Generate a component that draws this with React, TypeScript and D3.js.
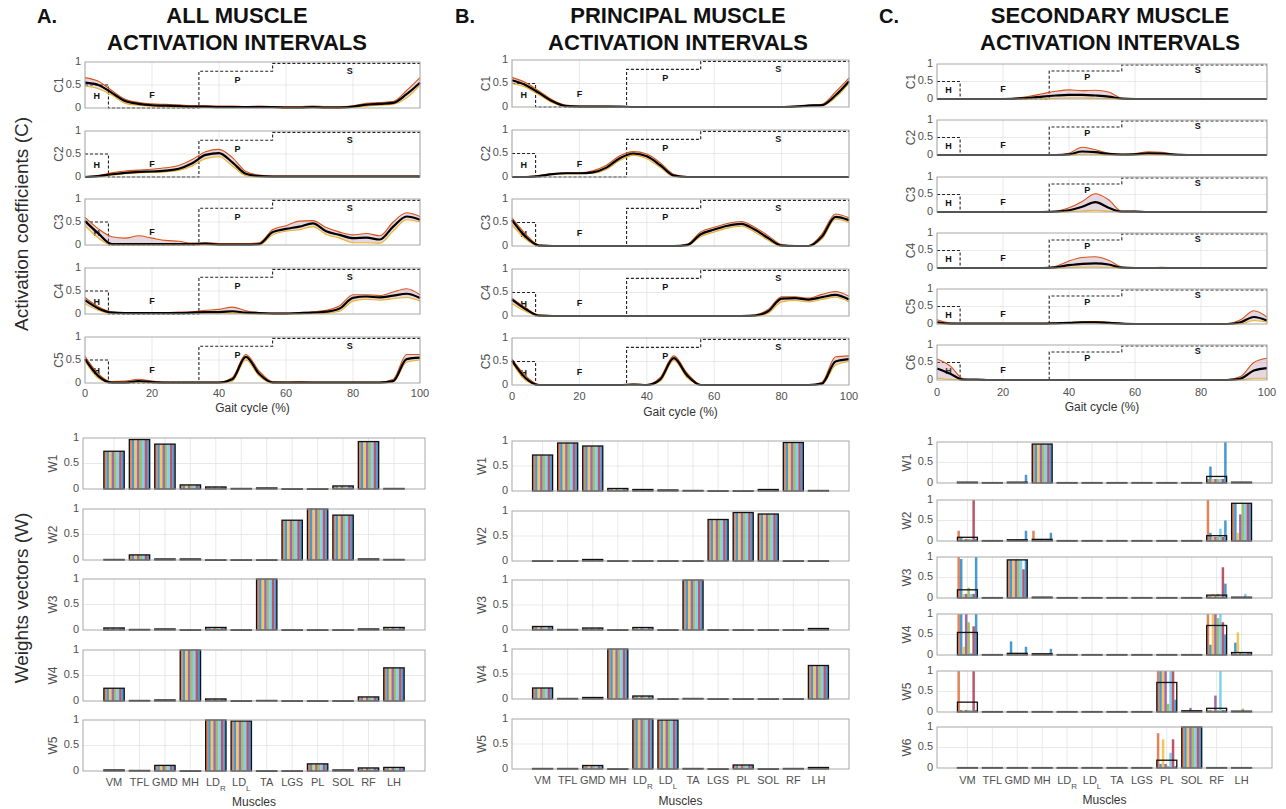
import React from 'react';
import * as d3 from 'd3';

// gait cycle sample points (%)
const gait = [0, 4, 8, 12, 16, 20, 24, 28, 32, 36, 40, 44, 48, 52, 56, 60, 64, 68, 72, 76, 80, 84, 88, 92, 96, 100];
const gaitTicks = [0, 20, 40, 60, 80, 100];
const yTicks = [0, 0.5, 1];
const muscles = ['VM', 'TFL', 'GMD', 'MH', 'LD_R', 'LD_L', 'TA', 'LGS', 'PL', 'SOL', 'RF', 'LH'];

// phase boundaries: heel strike, flat foot, push off, swing
const phasePath: [number, number][] = [[0, 0.5], [7, 0.5], [7, 0], [34, 0], [34, 0.8], [56, 0.8], [56, 0.97], [100, 0.97]];
const phaseLabels = [
  { t: 'H', x: 3.5, y: 0.25 },
  { t: 'F', x: 20, y: 0.27 },
  { t: 'P', x: 45.5, y: 0.6 },
  { t: 'S', x: 79, y: 0.8 },
];

// ---- A: all muscle activation intervals ----
const aC1Mean = [0.55, 0.5, 0.33, 0.15, 0.09, 0.06, 0.05, 0.04, 0.03, 0.03, 0.02, 0.02, 0.02, 0.02, 0.02, 0.01, 0.01, 0.02, 0.01, 0.01, 0.03, 0.07, 0.09, 0.11, 0.3, 0.55];
const aC1Hi = [0.66, 0.58, 0.38, 0.19, 0.12, 0.09, 0.08, 0.07, 0.05, 0.05, 0.04, 0.04, 0.03, 0.04, 0.03, 0.03, 0.03, 0.04, 0.03, 0.03, 0.05, 0.1, 0.12, 0.14, 0.38, 0.66];
const aC1Lo = [0.48, 0.42, 0.28, 0.1, 0.06, 0.04, 0.03, 0.02, 0.01, 0.01, 0.01, 0.01, 0.01, 0.01, 0.01, 0, 0, 0.01, 0, 0, 0.01, 0.04, 0.06, 0.08, 0.22, 0.5];

const aC2Mean = [0, 0.02, 0.06, 0.09, 0.11, 0.12, 0.14, 0.18, 0.3, 0.48, 0.52, 0.32, 0.07, 0.02, 0.01, 0.01, 0.01, 0.01, 0.01, 0.01, 0.01, 0.01, 0.01, 0.01, 0.01, 0.01];
const aC2Hi = [0.01, 0.03, 0.09, 0.13, 0.15, 0.17, 0.2, 0.25, 0.38, 0.55, 0.6, 0.42, 0.12, 0.04, 0.02, 0.02, 0.02, 0.02, 0.02, 0.02, 0.02, 0.02, 0.02, 0.02, 0.02, 0.02];
const aC2Lo = [0, 0.01, 0.04, 0.07, 0.09, 0.1, 0.11, 0.14, 0.24, 0.4, 0.44, 0.24, 0.03, 0, 0, 0, 0, 0, 0, 0, 0, 0, 0, 0, 0, 0];

const aC3Mean = [0.52, 0.25, 0.02, 0.02, 0.02, 0.02, 0.02, 0.02, 0.02, 0.03, 0.01, 0.01, 0.01, 0.02, 0.28, 0.35, 0.4, 0.47, 0.3, 0.22, 0.15, 0.16, 0.12, 0.4, 0.62, 0.55];
const aC3Hi = [0.6, 0.35, 0.18, 0.15, 0.2, 0.15, 0.1, 0.08, 0.04, 0.05, 0.03, 0.03, 0.03, 0.05, 0.33, 0.42, 0.52, 0.53, 0.38, 0.28, 0.22, 0.25, 0.2, 0.5, 0.7, 0.62];
const aC3Lo = [0.42, 0.15, 0, 0, 0, 0, 0, 0, 0, 0, 0, 0, 0, 0, 0.22, 0.3, 0.33, 0.4, 0.23, 0.15, 0.05, 0.05, 0.04, 0.3, 0.55, 0.5];

const aC4Mean = [0.3, 0.12, 0.03, 0.02, 0.02, 0.02, 0.02, 0.02, 0.03, 0.04, 0.04, 0.06, 0.03, 0.02, 0.01, 0.01, 0.02, 0.03, 0.05, 0.12, 0.35, 0.38, 0.36, 0.4, 0.44, 0.35];
const aC4Hi = [0.36, 0.16, 0.05, 0.03, 0.03, 0.03, 0.03, 0.04, 0.05, 0.08, 0.1, 0.15, 0.07, 0.03, 0.02, 0.02, 0.03, 0.05, 0.08, 0.18, 0.42, 0.42, 0.4, 0.48, 0.55, 0.42];
const aC4Lo = [0.22, 0.08, 0.01, 0.01, 0.01, 0.01, 0.01, 0.01, 0.01, 0.02, 0.02, 0.02, 0.01, 0, 0, 0, 0, 0.01, 0.02, 0.06, 0.28, 0.32, 0.3, 0.33, 0.36, 0.28];

const aC5Mean = [0.52, 0.15, 0.01, 0.01, 0.04, 0.02, 0.01, 0.01, 0.01, 0.01, 0.01, 0.08, 0.57, 0.2, 0.01, 0.01, 0.01, 0.01, 0.01, 0.01, 0.01, 0.01, 0.01, 0.04, 0.52, 0.55];
const aC5Hi = [0.58, 0.2, 0.03, 0.04, 0.08, 0.04, 0.02, 0.02, 0.02, 0.02, 0.02, 0.12, 0.62, 0.26, 0.03, 0.02, 0.03, 0.02, 0.02, 0.02, 0.02, 0.02, 0.02, 0.08, 0.62, 0.62];
const aC5Lo = [0.48, 0.1, 0, 0, 0.01, 0, 0, 0, 0, 0, 0, 0.04, 0.5, 0.15, 0, 0, 0, 0, 0, 0, 0, 0, 0, 0.02, 0.45, 0.5];

const aW1 = [0.74, 0.97, 0.88, 0.08, 0.04, 0.01, 0.02, 0.005, 0.005, 0.06, 0.93, 0.01];
const aW2 = [0.01, 0.1, 0.02, 0.02, 0.005, 0.005, 0.005, 0.78, 1.0, 0.88, 0.02, 0.01];
const aW3 = [0.04, 0.01, 0.02, 0.005, 0.05, 0.005, 1.0, 0.005, 0.005, 0.005, 0.02, 0.05];
const aW4 = [0.25, 0.01, 0.02, 1.0, 0.04, 0.005, 0.01, 0.005, 0.005, 0.005, 0.08, 0.65];
const aW5 = [0.02, 0.01, 0.11, 0.005, 1.0, 0.98, 0.005, 0.005, 0.14, 0.02, 0.06, 0.07];

// ---- B: principal muscle activation intervals ----
const bC1Mean = [0.57, 0.47, 0.3, 0.12, 0.02, 0.01, 0.01, 0.01, 0.01, 0, 0, 0, 0, 0, 0, 0, 0, 0, 0, 0, 0, 0.01, 0.03, 0.04, 0.25, 0.55];
const bC1Hi = [0.63, 0.52, 0.34, 0.15, 0.04, 0.02, 0.02, 0.02, 0.01, 0.01, 0.01, 0.01, 0.01, 0.01, 0.01, 0.01, 0.01, 0.01, 0.01, 0.01, 0.01, 0.02, 0.04, 0.06, 0.32, 0.62];
const bC1Lo = [0.5, 0.42, 0.26, 0.09, 0.01, 0, 0, 0, 0, 0, 0, 0, 0, 0, 0, 0, 0, 0, 0, 0, 0, 0, 0.02, 0.03, 0.2, 0.5];

const bC2Mean = [0, 0, 0.02, 0.06, 0.08, 0.08, 0.1, 0.2, 0.4, 0.5, 0.44, 0.25, 0.03, 0, 0, 0, 0, 0, 0, 0, 0, 0, 0, 0, 0, 0];
const bC2Hi = [0, 0.01, 0.03, 0.07, 0.09, 0.09, 0.13, 0.25, 0.45, 0.54, 0.49, 0.3, 0.06, 0.01, 0, 0, 0, 0, 0, 0, 0, 0, 0, 0, 0, 0];
const bC2Lo = [0, 0, 0.01, 0.05, 0.07, 0.07, 0.08, 0.16, 0.35, 0.46, 0.39, 0.2, 0.01, 0, 0, 0, 0, 0, 0, 0, 0, 0, 0, 0, 0, 0];

const bC3Mean = [0.55, 0.2, 0.01, 0, 0, 0, 0, 0, 0, 0, 0, 0, 0, 0.02, 0.25, 0.35, 0.43, 0.47, 0.35, 0.17, 0.01, 0, 0, 0.2, 0.62, 0.55];
const bC3Hi = [0.6, 0.26, 0.02, 0.01, 0.01, 0, 0, 0, 0, 0, 0, 0, 0, 0.04, 0.3, 0.4, 0.48, 0.52, 0.4, 0.22, 0.03, 0, 0.01, 0.26, 0.68, 0.6];
const bC3Lo = [0.45, 0.15, 0, 0, 0, 0, 0, 0, 0, 0, 0, 0, 0, 0.01, 0.2, 0.3, 0.38, 0.42, 0.3, 0.12, 0, 0, 0, 0.15, 0.57, 0.5];

const bC4Mean = [0.35, 0.15, 0.01, 0, 0, 0, 0, 0, 0, 0, 0, 0, 0, 0, 0, 0, 0, 0, 0.01, 0.1, 0.37, 0.38, 0.35, 0.4, 0.45, 0.35];
const bC4Hi = [0.38, 0.18, 0.02, 0.01, 0.01, 0.01, 0, 0, 0, 0, 0, 0, 0, 0, 0, 0, 0, 0, 0.02, 0.14, 0.41, 0.41, 0.38, 0.46, 0.52, 0.42];
const bC4Lo = [0.26, 0.1, 0, 0, 0, 0, 0, 0, 0, 0, 0, 0, 0, 0, 0, 0, 0, 0, 0, 0.06, 0.3, 0.33, 0.3, 0.35, 0.4, 0.3];

const bC5Mean = [0.52, 0.15, 0, 0, 0, 0, 0, 0, 0, 0.01, 0, 0.12, 0.57, 0.2, 0, 0, 0, 0, 0, 0, 0, 0, 0, 0.03, 0.5, 0.55];
const bC5Hi = [0.55, 0.2, 0.01, 0, 0, 0, 0, 0, 0, 0.02, 0.01, 0.16, 0.62, 0.25, 0.01, 0, 0, 0, 0, 0, 0, 0, 0, 0.06, 0.6, 0.62];
const bC5Lo = [0.48, 0.1, 0, 0, 0, 0, 0, 0, 0, 0, 0, 0.08, 0.52, 0.15, 0, 0, 0, 0, 0, 0, 0, 0, 0, 0.01, 0.42, 0.5];

const bW1 = [0.72, 0.96, 0.9, 0.05, 0.03, 0.02, 0.01, 0.005, 0.005, 0.03, 0.97, 0.01];
const bW2 = [0.005, 0.005, 0.03, 0.005, 0.005, 0.005, 0.005, 0.83, 0.97, 0.94, 0.005, 0.005];
const bW3 = [0.07, 0.01, 0.04, 0.005, 0.05, 0.005, 1.0, 0.005, 0.005, 0.005, 0.005, 0.03];
const bW4 = [0.22, 0.01, 0.03, 1.0, 0.06, 0.005, 0.01, 0.005, 0.005, 0.005, 0.005, 0.67];
const bW5 = [0.01, 0.01, 0.07, 0.005, 1.0, 0.98, 0.01, 0.005, 0.08, 0.005, 0.01, 0.03];

// ---- C: secondary muscle activation intervals ----
const cC1Mean = [0, 0, 0, 0, 0, 0, 0.01, 0.03, 0.07, 0.1, 0.12, 0.12, 0.1, 0.07, 0.01, 0, 0, 0, 0, 0, 0, 0, 0, 0, 0, 0];
const cC1Hi = [0, 0, 0, 0, 0, 0, 0.03, 0.08, 0.15, 0.22, 0.26, 0.24, 0.25, 0.2, 0.02, 0, 0, 0, 0, 0, 0, 0, 0, 0, 0, 0];
const cC1Lo = [0, 0, 0, 0, 0, 0, 0, 0, 0, 0.02, 0.03, 0.03, 0.02, 0.01, 0, 0, 0, 0, 0, 0, 0, 0, 0, 0, 0, 0];

const cC2Mean = [0, 0, 0, 0, 0, 0, 0, 0, 0, 0, 0.02, 0.1, 0.08, 0.03, 0.01, 0.02, 0.05, 0.04, 0.01, 0, 0, 0, 0, 0, 0, 0];
const cC2Hi = [0, 0, 0, 0, 0, 0, 0, 0, 0, 0, 0.05, 0.22, 0.15, 0.05, 0.02, 0.04, 0.09, 0.08, 0.02, 0, 0, 0, 0, 0, 0, 0];
const cC2Lo = [0, 0, 0, 0, 0, 0, 0, 0, 0, 0, 0, 0.02, 0.02, 0, 0, 0, 0.01, 0.01, 0, 0, 0, 0, 0, 0, 0, 0];

const cC3Mean = [0, 0, 0, 0, 0, 0, 0, 0, 0, 0.01, 0.05, 0.15, 0.28, 0.12, 0.01, 0.01, 0, 0, 0, 0, 0, 0, 0, 0, 0, 0];
const cC3Hi = [0, 0, 0, 0, 0, 0, 0, 0, 0, 0.02, 0.12, 0.3, 0.52, 0.35, 0.02, 0.02, 0, 0, 0, 0, 0, 0, 0, 0, 0, 0];
const cC3Lo = [0, 0, 0, 0, 0, 0, 0, 0, 0, 0, 0.01, 0.03, 0.05, 0.02, 0, 0, 0, 0, 0, 0, 0, 0, 0, 0, 0, 0];

const cC4Mean = [0, 0, 0, 0, 0, 0, 0, 0, 0, 0.02, 0.08, 0.12, 0.13, 0.1, 0.01, 0, 0, 0, 0, 0, 0, 0, 0, 0, 0, 0];
const cC4Hi = [0, 0, 0, 0, 0, 0, 0, 0, 0, 0.05, 0.2, 0.3, 0.32, 0.22, 0.03, 0, 0, 0.02, 0, 0, 0, 0, 0, 0, 0, 0];
const cC4Lo = [0, 0, 0, 0, 0, 0, 0, 0, 0, 0, 0.01, 0.03, 0.03, 0.02, 0, 0, 0, 0, 0, 0, 0, 0, 0, 0, 0, 0];

const cC5Mean = [0.05, 0.01, 0.01, 0.01, 0.01, 0.01, 0.01, 0.01, 0.01, 0.02, 0.03, 0.05, 0.05, 0.03, 0.01, 0, 0, 0, 0, 0, 0, 0, 0, 0.05, 0.2, 0.1];
const cC5Hi = [0.12, 0.03, 0.02, 0.02, 0.02, 0.02, 0.02, 0.02, 0.02, 0.03, 0.04, 0.06, 0.07, 0.05, 0.02, 0.01, 0, 0, 0, 0, 0, 0, 0.01, 0.12, 0.38, 0.2];
const cC5Lo = [0, 0, 0, 0, 0, 0, 0, 0, 0, 0.01, 0.02, 0.03, 0.03, 0.02, 0, 0, 0, 0, 0, 0, 0, 0, 0, 0, 0.1, 0.05];

const cC6Mean = [0.33, 0.18, 0.01, 0.01, 0, 0, 0, 0, 0, 0, 0, 0, 0, 0, 0, 0, 0, 0, 0, 0, 0, 0, 0, 0.04, 0.27, 0.34];
const cC6Hi = [0.6, 0.4, 0.03, 0.01, 0.01, 0, 0, 0, 0, 0, 0, 0, 0, 0, 0, 0, 0, 0, 0, 0, 0, 0, 0.01, 0.1, 0.5, 0.62];
const cC6Lo = [0.05, 0.02, 0, 0, 0, 0, 0, 0, 0, 0, 0, 0, 0, 0, 0, 0, 0, 0, 0, 0, 0, 0, 0, 0, 0.05, 0.05];

const cW1 = [0.02, 0.01, 0.02, 0.95, 0.01, 0.01, 0.01, 0.01, 0.01, 0.01, 0.16, 0.02];
const cW2 = [0.09, 0.01, 0.03, 0.04, 0.01, 0.01, 0.01, 0.01, 0.01, 0.01, 0.13, 0.92];
const cW3 = [0.2, 0.01, 0.93, 0.02, 0.01, 0.01, 0.01, 0.01, 0.01, 0.01, 0.07, 0.02];
const cW4 = [0.55, 0.01, 0.04, 0.03, 0.01, 0.01, 0.01, 0.01, 0.01, 0.01, 0.72, 0.06];
const cW5 = [0.24, 0.01, 0.01, 0.01, 0.01, 0.01, 0.01, 0.01, 0.72, 0.03, 0.09, 0.02];
const cW6 = [0.01, 0.01, 0.01, 0.01, 0.01, 0.01, 0.01, 0.01, 0.19, 1.0, 0.01, 0.01];

// single-subject weights where they differ from the mean: [muscle index, subject 1..8]
const cW1Subj = [[2, 0.02, 0.02, 0.02, 0.02, 0.02, 0.02, 0.02, 0.2], [3, 0.95, 0.95, 0.95, 0.95, 0.95, 0.95, 0.95, 0.95], [10, 0.1, 0.4, 0.1, 0.1, 0.1, 0.1, 0.1, 1.0]];
const cW2Subj = [[0, 0.25, 0.1, 0.05, 0.05, 0.05, 0.05, 1.0, 0.05], [2, 0.02, 0.02, 0.02, 0.02, 0.02, 0.02, 0.02, 0.25], [3, 0.25, 0.03, 0.03, 0.03, 0.03, 0.03, 0.03, 0.2], [10, 1.0, 0.2, 0.1, 0.1, 0.1, 0.3, 0.1, 0.5], [11, 0.92, 0.92, 0.2, 0.65, 0.92, 0.92, 0.92, 0.92]];
const cW3Subj = [[0, 1.0, 0.95, 0.1, 0.1, 0.25, 0.1, 0.1, 1.0], [2, 0.93, 0.93, 0.93, 0.93, 0.93, 0.93, 0.7, 0.93], [10, 0.05, 0.05, 0.1, 0.05, 0.1, 0.05, 0.75, 0.35], [11, 0.01, 0.01, 0.01, 0.01, 0.01, 0.1, 0.01, 0.01]];
const cW4Subj = [[0, 1.0, 1.0, 0.2, 1.0, 0.8, 0.05, 0.7, 1.0], [2, 0.02, 0.33, 0.02, 0.02, 0.02, 0.02, 0.02, 0.2], [3, 0.02, 0.02, 0.02, 0.02, 0.02, 0.02, 0.02, 0.15], [10, 1.0, 0.25, 1.0, 1.0, 0.9, 1.0, 0.8, 0.5], [11, 0.05, 0.3, 0.55, 0.05, 0.05, 0.05, 0.05, 0.05]];
const cW5Subj = [[0, 1.0, 0.05, 0.05, 0.05, 0.05, 0.05, 1.0, 0.05], [8, 1.0, 1.0, 1.0, 1.0, 0.2, 1.0, 1.0, 0.3], [9, 0.02, 0.02, 0.02, 0.1, 0.02, 0.02, 0.02, 0.02], [10, 0.05, 0.05, 0.05, 0.4, 0.05, 1.0, 0.05, 0.05], [11, 0.01, 0.01, 0.01, 0.01, 0.08, 0.01, 0.01, 0.01]];
const cW6Subj = [[8, 0.85, 0.1, 0.7, 0.1, 0.05, 0.37, 0.7, 0.05], [9, 1, 1, 1, 1, 1, 1, 1, 1]];

const subjColors = ['#D95319', '#0072BD', '#EDB120', '#7E2F8E', '#77AC30', '#4DBEEE', '#A2142F', '#0072BD'];

const FONT = '"Liberation Sans", Arial, Helvetica, sans-serif';
const GRID = '#e3e3e3';
const AXIS = '#a8a8a8';
const TICK = '#505050';

type CurveProps = { x0: number; x1: number; top: number; h: number; label: string; mean: number[]; hi: number[]; lo: number[]; axisY?: number; titleY?: number };

function CurvePanel({ x0, x1, top, h, label, mean, hi, lo, axisY, titleY }: CurveProps) {
  const x = d3.scaleLinear([0, 100], [x0, x1]);
  const y = d3.scaleLinear([0, 1], [top + h, top]);
  const line = d3.line<number>().x((_, i) => x(gait[i])).y(d => y(d)).curve(d3.curveMonotoneX);
  const band = d3.area<number>().x((_, i) => x(gait[i])).y0((_, i) => y(lo[i])).y1(d => y(d)).curve(d3.curveMonotoneX);
  const phase = d3.line<[number, number]>().x(d => x(d[0])).y(d => y(d[1]));
  return (
    <g>
      {gaitTicks.map(t => <line key={'gx' + t} x1={x(t)} x2={x(t)} y1={top} y2={top + h} stroke={GRID} strokeWidth={0.8} />)}
      <line x1={x0} x2={x1} y1={y(0.5)} y2={y(0.5)} stroke={GRID} strokeWidth={0.8} />
      <path d={phase(phasePath) || ''} fill="none" stroke="#222" strokeWidth={1.1} strokeDasharray="3,2" />
      {phaseLabels.map(p => (
        <text key={p.t} x={x(p.x)} y={y(p.y)} fontSize={9} fontWeight="bold" textAnchor="middle" dominantBaseline="middle" fontFamily={FONT} fill="#111">{p.t}</text>
      ))}
      <path d={band(hi) || ''} fill="#b07a9a" fillOpacity={0.3} stroke="none" />
      <path d={line(hi) || ''} fill="none" stroke="#D95319" strokeWidth={1.1} />
      <path d={line(lo) || ''} fill="none" stroke="#EDB120" strokeWidth={1.1} />
      <path d={line(mean) || ''} fill="none" stroke="#000" strokeWidth={2.2} />
      <rect x={x0} y={top} width={x1 - x0} height={h} fill="none" stroke={AXIS} strokeWidth={1} />
      {yTicks.map(t => (
        <text key={'yt' + t} x={x0 - 4} y={y(t)} fontSize={11} textAnchor="end" dominantBaseline="middle" fontFamily={FONT} fill={TICK}>{t}</text>
      ))}
      <text transform={`translate(${x0 - 25},${top + h / 2}) rotate(-90)`} fontSize={12} textAnchor="middle" dominantBaseline="middle" fontFamily={FONT} fill={TICK}>{label}</text>
      {axisY !== undefined && gaitTicks.map(t => (
        <text key={'xt' + t} x={x(t)} y={axisY} fontSize={11} textAnchor="middle" fontFamily={FONT} fill={TICK}>{t}</text>
      ))}
      {titleY !== undefined && (
        <text x={(x0 + x1) / 2} y={titleY} fontSize={12} textAnchor="middle" fontFamily={FONT} fill="#333">Gait cycle (%)</text>
      )}
    </g>
  );
}

type BarProps = { x0: number; x1: number; top: number; h: number; label: string; mean: number[]; subj?: number[][]; axisY?: number; titleY?: number };

function BarPanel({ x0, x1, top, h, label, mean, subj, axisY, titleY }: BarProps) {
  const x = d3.scaleLinear([1 - 1.22, 12 + 1.22], [x0, x1]);
  const y = d3.scaleLinear([0, 1], [top + h, top]);
  const bw = x(1.8) - x(1);
  const n = subjColors.length;
  const sw = bw / n;
  const subjOf = (i: number) => {
    const row = subj?.find(r => r[0] === i);
    return row ? row.slice(1) : subjColors.map(() => mean[i]);
  };
  return (
    <g>
      {muscles.map((_, i) => <line key={'gx' + i} x1={x(i + 1)} x2={x(i + 1)} y1={top} y2={top + h} stroke={GRID} strokeWidth={0.8} />)}
      <line x1={x0} x2={x1} y1={y(0.5)} y2={y(0.5)} stroke={GRID} strokeWidth={0.8} />
      {mean.map((m, i) => {
        const left = x(i + 1) - bw / 2;
        return (
          <g key={'b' + i}>
            {subjOf(i).map((v, k) => (
              <rect key={k} x={left + k * sw} y={y(v)} width={sw} height={y(0) - y(v)} fill={subjColors[k]} fillOpacity={0.72} />
            ))}
            <rect x={left} y={y(m)} width={bw} height={Math.max(y(0) - y(m), 0.6)} fill="none" stroke="#111" strokeWidth={1.3} />
          </g>
        );
      })}
      <rect x={x0} y={top} width={x1 - x0} height={h} fill="none" stroke={AXIS} strokeWidth={1} />
      {yTicks.map(t => (
        <text key={'yt' + t} x={x0 - 4} y={y(t)} fontSize={11} textAnchor="end" dominantBaseline="middle" fontFamily={FONT} fill={TICK}>{t}</text>
      ))}
      <text transform={`translate(${x0 - 29},${top + h / 2}) rotate(-90)`} fontSize={12} textAnchor="middle" dominantBaseline="middle" fontFamily={FONT} fill={TICK}>{label}</text>
      {axisY !== undefined && muscles.map((m, i) => {
        const [base, sub] = m.split('_');
        return (
          <text key={'xt' + i} x={x(i + 1)} y={axisY} fontSize={11} textAnchor="middle" fontFamily={FONT} fill={TICK}>
            {base}{sub && <tspan fontSize={8} dy={5}>{sub}</tspan>}
          </text>
        );
      })}
      {titleY !== undefined && (
        <text x={(x0 + x1) / 2} y={titleY} fontSize={12} textAnchor="middle" fontFamily={FONT} fill="#333">Muscles</text>
      )}
    </g>
  );
}

const columns = [
  {
    letter: 'A.', letterX: 37, title: ['ALL MUSCLE', 'ACTIVATION INTERVALS'], titleX: 237,
    cx0: 85, cx1: 420, cTops: [62, 131, 199, 268, 337], cH: 46, cAxisY: 397, cTitleY: 412,
    curves: [[aC1Mean, aC1Hi, aC1Lo], [aC2Mean, aC2Hi, aC2Lo], [aC3Mean, aC3Hi, aC3Lo], [aC4Mean, aC4Hi, aC4Lo], [aC5Mean, aC5Hi, aC5Lo]],
    wx0: 83, wx1: 425, wTops: [438, 509, 579, 650, 720], wH: 51, wAxisY: 786, wTitleY: 806,
    weights: [aW1, aW2, aW3, aW4, aW5], subj: [] as number[][][],
  },
  {
    letter: 'B.', letterX: 455, title: ['PRINCIPAL MUSCLE', 'ACTIVATION INTERVALS'], titleX: 678,
    cx0: 512, cx1: 849, cTops: [60, 130, 199, 269, 338], cH: 47, cAxisY: 400, cTitleY: 416,
    curves: [[bC1Mean, bC1Hi, bC1Lo], [bC2Mean, bC2Hi, bC2Lo], [bC3Mean, bC3Hi, bC3Lo], [bC4Mean, bC4Hi, bC4Lo], [bC5Mean, bC5Hi, bC5Lo]],
    wx0: 512, wx1: 849, wTops: [441, 511, 580, 649, 719], wH: 50, wAxisY: 784, wTitleY: 805,
    weights: [bW1, bW2, bW3, bW4, bW5], subj: [] as number[][][],
  },
  {
    letter: 'C.', letterX: 879, title: ['SECONDARY MUSCLE', 'ACTIVATION INTERVALS'], titleX: 1110,
    cx0: 937, cx1: 1267, cTops: [64, 120, 177, 233, 289, 345], cH: 35, cAxisY: 396, cTitleY: 411,
    curves: [[cC1Mean, cC1Hi, cC1Lo], [cC2Mean, cC2Hi, cC2Lo], [cC3Mean, cC3Hi, cC3Lo], [cC4Mean, cC4Hi, cC4Lo], [cC5Mean, cC5Hi, cC5Lo], [cC6Mean, cC6Hi, cC6Lo]],
    wx0: 937, wx1: 1272, wTops: [442, 500, 557, 614, 671, 727], wH: 41, wAxisY: 784, wTitleY: 804,
    weights: [cW1, cW2, cW3, cW4, cW5, cW6], subj: [cW1Subj, cW2Subj, cW3Subj, cW4Subj, cW5Subj, cW6Subj],
  },
];

export default function App() {
  return (
    <div style={{ position: 'absolute', left: 0, top: 0, background: '#fff' }}>
      <svg width={1286} height={809} viewBox="0 0 1286 809" style={{ display: 'block' }}>
        <rect width={1286} height={809} fill="#fff" />
        <text transform="translate(28,224) rotate(-90)" fontSize={19} textAnchor="middle" fontFamily={FONT} fill="#2a2a2a">Activation coefficients (C)</text>
        <text transform="translate(28,598) rotate(-90)" fontSize={19} textAnchor="middle" fontFamily={FONT} fill="#2a2a2a">Weights vectors (W)</text>
        {columns.map(col => {
          const nc = col.curves.length;
          const nw = col.weights.length;
          return (
            <g key={col.letter}>
              <text x={col.letterX} y={23} fontSize={20} fontWeight="bold" fontFamily={FONT} fill="#111">{col.letter}</text>
              <text x={col.titleX} y={23} fontSize={22} fontWeight="bold" textAnchor="middle" fontFamily={FONT} fill="#111">{col.title[0]}</text>
              <text x={col.titleX} y={50} fontSize={22} fontWeight="bold" textAnchor="middle" fontFamily={FONT} fill="#111">{col.title[1]}</text>
              {col.curves.map((c, i) => (
                <CurvePanel key={'c' + i} x0={col.cx0} x1={col.cx1} top={col.cTops[i]} h={col.cH} label={'C' + (i + 1)}
                  mean={c[0]} hi={c[1]} lo={c[2]}
                  axisY={i === nc - 1 ? col.cAxisY : undefined} titleY={i === nc - 1 ? col.cTitleY : undefined} />
              ))}
              {col.weights.map((w, i) => (
                <BarPanel key={'w' + i} x0={col.wx0} x1={col.wx1} top={col.wTops[i]} h={col.wH} label={'W' + (i + 1)}
                  mean={w} subj={col.subj[i]}
                  axisY={i === nw - 1 ? col.wAxisY : undefined} titleY={i === nw - 1 ? col.wTitleY : undefined} />
              ))}
            </g>
          );
        })}
      </svg>
    </div>
  );
}
